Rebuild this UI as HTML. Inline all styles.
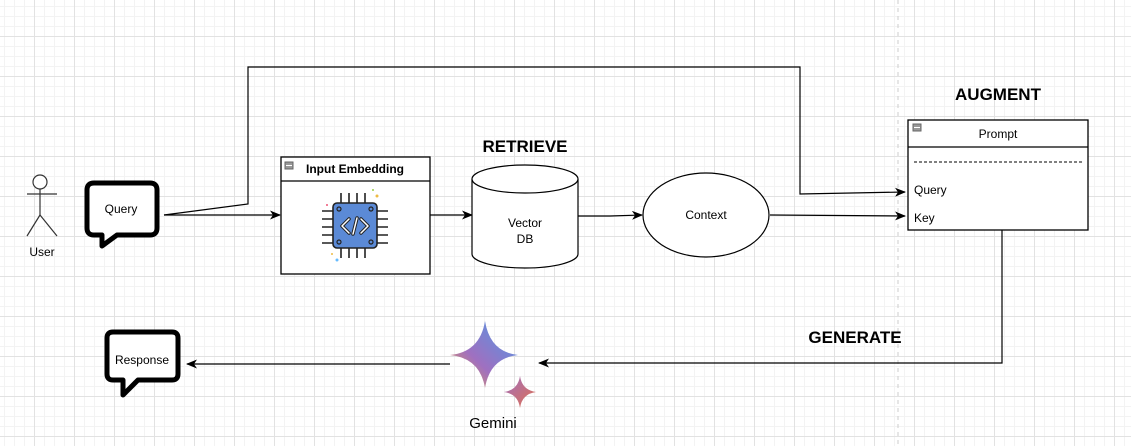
<!DOCTYPE html>
<html><head><meta charset="utf-8"><style>
html,body{margin:0;padding:0}
body{width:1131px;height:446px;overflow:hidden;background:#fff;
background-image:linear-gradient(#e2e2e2 1px,transparent 1px),linear-gradient(90deg,#e2e2e2 1px,transparent 1px),linear-gradient(#f3f3f3 1px,transparent 1px),linear-gradient(90deg,#f3f3f3 1px,transparent 1px);
background-size:40px 40px,40px 40px,10px 10px,10px 10px;background-position:-6px -4px}
svg{position:absolute;left:0;top:0}
text{font-family:"Liberation Sans",sans-serif}
</style></head><body>
<svg width="1131" height="446" viewBox="0 0 1131 446">
<defs>
<marker id="a" markerWidth="11" markerHeight="9" refX="10" refY="4.5" orient="auto" markerUnits="userSpaceOnUse"><path d="M0,0 L11,4.5 L0,9 L3,4.5z" fill="#000"/></marker>
<linearGradient id="g" x1="0" y1="1" x2="1" y2="0"><stop offset="0" stop-color="#f0a040"/><stop offset="0.4" stop-color="#a070c0"/><stop offset="1" stop-color="#4a9ae8"/></linearGradient>
<linearGradient id="g2" x1="0" y1="0" x2="1" y2="1"><stop offset="0" stop-color="#a070c0"/><stop offset="1" stop-color="#e07050"/></linearGradient>
</defs>
<line x1="898" y1="0" x2="898" y2="446" stroke="#ccc" stroke-dasharray="4,4"/>
<g stroke="#333" stroke-width="1.2" fill="none">
<circle cx="40" cy="182" r="7" fill="#fff"/>
<line x1="40" y1="189" x2="40" y2="215"/><line x1="27" y1="194" x2="57" y2="194"/>
<line x1="40" y1="215" x2="27" y2="236"/><line x1="40" y1="215" x2="57" y2="236"/>
</g>
<text x="42" y="256" font-size="12" text-anchor="middle">User</text>
<path d="M94,183 H150 Q157,183 157,190 V228 Q157,235 150,235 H117 L102,246 V235 H94 Q87,235 87,228 V190 Q87,183 94,183z" fill="#fff" stroke="#000" stroke-width="5" stroke-linejoin="round"/>
<text x="121" y="213" font-size="12" text-anchor="middle">Query</text>
<g stroke="#000" stroke-width="1.2" fill="none">
<polyline points="164,215 248,204 248,67 800,67 800,194 905,192" marker-end="url(#a)"/>
<line x1="164" y1="215" x2="280" y2="215" marker-end="url(#a)"/>
<line x1="430" y1="215" x2="472" y2="215" marker-end="url(#a)"/>
<polyline points="578,216 610,216 642,215" marker-end="url(#a)"/>
<polyline points="770,215 905,216" marker-end="url(#a)"/>
<polyline points="1002,230 1002,363 539,363" marker-end="url(#a)"/>
<line x1="450" y1="364" x2="187" y2="364" marker-end="url(#a)"/>
</g>
<rect x="281" y="157" width="149" height="117" fill="#fff" stroke="#000" stroke-width="1.3"/>
<line x1="281" y1="181" x2="430" y2="181" stroke="#000" stroke-width="1.3"/>
<rect x="285" y="162" width="8" height="7" fill="#999" stroke="#666"/><line x1="286" y1="165.5" x2="292" y2="165.5" stroke="#fff"/>
<text x="355" y="173" font-size="12" font-weight="bold" text-anchor="middle">Input Embedding</text>
<g stroke="#222" stroke-width="1.6">
<path d="M341,203v-10M349,203v-10M357,203v-10M365,203v-10M341,248v10M349,248v10M357,248v10M365,248v10M333,211h-11M333,219h-11M333,227h-11M333,235h-11M333,243h-11M377,211h11M377,219h11M377,227h11M377,235h11M377,243h11"/>
</g>
<rect x="333" y="203" width="44" height="45" rx="4" fill="#5b8ad6" stroke="#222" stroke-width="1.6"/>
<g fill="none" stroke="#222" stroke-width="1.2"><circle cx="339" cy="209" r="2"/><circle cx="371" cy="209" r="2"/><circle cx="339" cy="242" r="2"/><circle cx="371" cy="242" r="2"/></g>
<path d="M349,219 L342,226 L349,233 M361,219 L368,226 L361,233 M357,218 L353,234" fill="none" stroke="#222" stroke-width="3.5" stroke-linecap="round" stroke-linejoin="round"/>
<path d="M349,219 L342,226 L349,233 M361,219 L368,226 L361,233 M357,218 L353,234" fill="none" stroke="#fff" stroke-width="1.5" stroke-linecap="round" stroke-linejoin="round"/>
<circle cx="327" cy="205" r="1" fill="#e57"/><circle cx="373" cy="190" r="1" fill="#9c4"/><circle cx="377" cy="196" r="1.5" fill="#eb4"/><circle cx="332" cy="254" r="1" fill="#eb4"/><circle cx="337" cy="260" r="1.5" fill="#6bf"/>
<path d="M472,179 V254 A53,14 0 0 0 578,254 V179" fill="#fff" stroke="#000" stroke-width="1.2"/>
<ellipse cx="525" cy="179" rx="53" ry="14" fill="#fff" stroke="#000" stroke-width="1.2"/>
<text x="525" y="227" font-size="12" text-anchor="middle">Vector</text>
<text x="525" y="243" font-size="12" text-anchor="middle">DB</text>
<text x="525" y="152" font-size="17" font-weight="bold" text-anchor="middle">RETRIEVE</text>
<ellipse cx="706" cy="215" rx="63" ry="42" fill="#fff" stroke="#000" stroke-width="1.2"/>
<text x="706" y="219" font-size="12" text-anchor="middle">Context</text>
<text x="998" y="100" font-size="17" font-weight="bold" text-anchor="middle">AUGMENT</text>
<rect x="908" y="120" width="180" height="110" fill="#fff" stroke="#000" stroke-width="1.3"/>
<line x1="908" y1="147" x2="1088" y2="147" stroke="#000" stroke-width="1.2"/>
<rect x="913" y="124" width="8" height="7" fill="#999" stroke="#666"/><line x1="914" y1="127.5" x2="920" y2="127.5" stroke="#fff"/>
<text x="998" y="138" font-size="12" text-anchor="middle">Prompt</text>
<line x1="914" y1="162" x2="1083" y2="162" stroke="#000" stroke-dasharray="3,2"/>
<text x="914" y="194" font-size="12">Query</text>
<text x="914" y="222" font-size="12">Key</text>
<text x="855" y="343" font-size="17" font-weight="bold" text-anchor="middle">GENERATE</text>
<path d="M485,321 Q490,352 518,355 Q490,358 485,388 Q480,358 450,355 Q480,352 485,321z" fill="url(#g)"/>
<path d="M520,376 Q522,390 536,392 Q522,394 520,408 Q518,394 504,392 Q518,390 520,376z" fill="url(#g2)"/>
<text x="493" y="428" font-size="15" text-anchor="middle">Gemini</text>
<path d="M113,332 H172 Q178,332 178,338 V374 Q178,380 172,380 H138 L123,395 V380 H113 Q107,380 107,374 V338 Q107,332 113,332z" fill="#fff" stroke="#000" stroke-width="5" stroke-linejoin="round"/>
<text x="142" y="364" font-size="12" text-anchor="middle">Response</text>
</svg>
</body></html>
